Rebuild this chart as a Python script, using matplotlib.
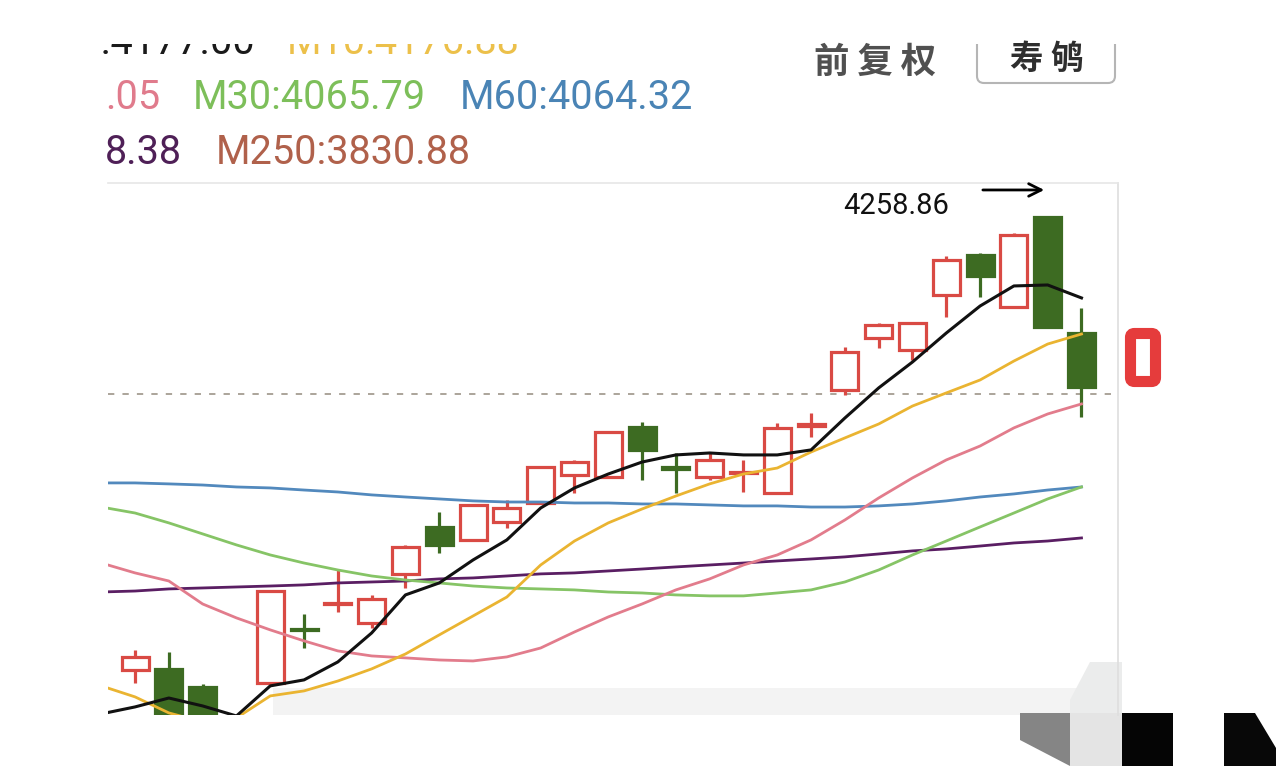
import matplotlib
matplotlib.use("Agg")
import matplotlib.pyplot as plt
from matplotlib.patches import Rectangle, FancyBboxPatch, Polygon

# ---------------- data ----------------
idx = list(range(29))                     # candle positions
opens  = [3933.6, 3934.4, 3921.4, 3895.0, 3924.3, 3963.0, 3981.0, 3967.4, 4002.6, 4036.3,
          4027.0, 4039.9, 4053.5, 4073.6, 4072.2, 4108.1, 4079.0, 4072.2, 4075.0, 4060.7,
          4109.0, 4134.6, 4172.0, 4163.3, 4202.8, 4231.5, 4194.2, 4258.8, 4175.5]
highs  = [3948.0, 3946.6, 3923.6, 3898.0, 3991.0, 3973.8, 4005.4, 3987.5, 4023.4, 4047.1,
          4053.0, 4055.7, 4080.0, 4084.4, 4105.0, 4111.7, 4089.4, 4090.1, 4084.4, 4110.9,
          4118.1, 4165.5, 4182.7, 4183.4, 4230.8, 4233.0, 4247.3, 4258.86, 4193.5]
lows   = [3924.3, 3879.8, 3878.0, 3872.0, 3924.0, 3949.4, 3975.3, 3963.8, 3992.5, 4017.6,
          4026.0, 4035.6, 4052.5, 4060.7, 4071.5, 4070.0, 4060.7, 4070.0, 4061.4, 4060.0,
          4100.9, 4131.0, 4164.8, 4156.2, 4187.0, 4201.4, 4193.5, 4179.0, 4115.2]
closes = [3943.0, 3890.6, 3887.0, 3884.0, 3990.3, 3962.0, 3982.0, 3984.6, 4021.9, 4023.4,
          4052.1, 4049.9, 4079.4, 4082.9, 4104.5, 4091.6, 4078.0, 4084.4, 4076.0, 4107.4,
          4110.0, 4161.9, 4181.3, 4182.7, 4227.9, 4216.5, 4245.9, 4179.8, 4136.8]

ma_x = list(range(-1, 29))
ma5   = [3902.1, 3907.1, 3913.5, 3907.8, 3900.6, 3922.2, 3926.5, 3939.4, 3960.2, 3987.5,
         3996.1, 4012.6, 4027.0, 4049.9, 4064.3, 4074.3, 4082.9, 4088.0, 4089.4, 4088.0,
         4088.0, 4091.6, 4114.5, 4136.1, 4154.7, 4175.5, 4194.9, 4209.3, 4210.0, 4200.7]
ma10  = [3922.2, 3914.3, 3902.8, 3896.3, 3899.2, 3915.0, 3918.6, 3925.7, 3934.4, 3945.1,
         3958.8, 3972.4, 3986.0, 4009.0, 4026.2, 4039.2, 4049.2, 4058.5, 4067.2, 4074.3,
         4078.6, 4090.1, 4100.2, 4110.2, 4123.1, 4132.5, 4141.8, 4155.4, 4167.6, 4174.8]
ma20  = [4010.4, 4003.3, 3997.5, 3981.0, 3971.0, 3962.4, 3954.5, 3947.3, 3943.7, 3942.3,
         3940.8, 3940.1, 3943.0, 3949.4, 3960.9, 3971.7, 3981.0, 3991.1, 3999.0, 4009.0,
         4016.2, 4027.0, 4041.3, 4057.1, 4071.5, 4084.4, 4094.4, 4107.4, 4117.4, 4124.6]
ma30  = [4050.6, 4046.3, 4039.2, 4031.3, 4023.4, 4016.2, 4010.4, 4005.4, 4001.1, 3998.2,
         3996.1, 3993.9, 3992.5, 3991.8, 3991.1, 3989.6, 3988.9, 3987.5, 3986.8, 3986.8,
         3988.9, 3991.1, 3996.8, 4005.4, 4016.2, 4026.2, 4036.3, 4046.3, 4056.4, 4065.0]
ma60  = [4067.9, 4067.9, 4067.2, 4066.4, 4065.0, 4064.3, 4062.8, 4061.4, 4059.3, 4057.8,
         4056.4, 4055.0, 4054.2, 4054.2, 4053.5, 4053.5, 4052.8, 4052.8, 4052.1, 4051.4,
         4051.4, 4050.6, 4050.6, 4051.4, 4052.8, 4055.0, 4057.8, 4060.0, 4062.8, 4065.0]
ma120 = [3989.6, 3990.3, 3991.8, 3992.5, 3993.2, 3993.9, 3994.7, 3996.1, 3996.8, 3997.5,
         3999.0, 3999.7, 4001.1, 4002.6, 4003.3, 4004.7, 4006.1, 4007.6, 4009.0, 4010.4,
         4011.9, 4013.3, 4014.8, 4016.9, 4019.1, 4020.5, 4022.6, 4024.8, 4026.2, 4028.4]

ref_price = 4131.8
peak_label = "4258.86"
peak_index = 27

# legend texts as visible in the (cropped) screenshot
legend_rows = [
    [("M5:4177.00", "#1a1a1a"), ("M10:4176.88", "#ecc04a")],
    [(".05", "#e07b8c"), ("M30:4065.79", "#7dbf5a"), ("M60:4064.32", "#4a84b5")],
    [("8.38", "#4f2057"), ("M250:3830.88", "#b0614b")],
]

# ---------------- figure ----------------
W, H = 1280, 766
fig = plt.figure(figsize=(W / 100, H / 100), dpi=100)
fig.patch.set_facecolor("white")

# background decoration axes (pixel coordinates)
bg = fig.add_axes([0, 0, 1, 1], zorder=0)
bg.set_xlim(0, W)
bg.set_ylim(H, 0)
bg.axis("off")
bg.add_patch(Rectangle((273, 688), 849, 27, color="#f3f3f3", lw=0))
bg.add_patch(Polygon([(1090, 662), (1122, 662), (1122, 766), (1070, 766), (1070, 700)],
                     color="#ebecec", lw=0))
bg.add_patch(Polygon([(1020, 713), (1070, 713), (1070, 766), (1020, 740)], color="#858585", lw=0))
bg.add_patch(Rectangle((1070, 713), 52, 53, color="#e4e4e4", lw=0))
bg.add_patch(Rectangle((1122, 713), 51, 53, color="#050505", lw=0))
bg.add_patch(Polygon([(1224, 713), (1255, 713), (1276, 748), (1276, 766), (1224, 766)],
                     color="#080808", lw=0))
# red marker box on right
bg.add_patch(FancyBboxPatch((1130.5, 333.5), 25, 48, boxstyle="round,pad=0,rounding_size=4",
                            facecolor="none", edgecolor="#e53c3c", lw=8))

# main price axes
ax = fig.add_axes([108 / W, 51 / H, 1010 / W, 532 / H], zorder=1)
ax.set_facecolor("none")
ax.set_xlim(-0.80, 29.08)
ax.set_ylim(3901.3, 4283.2)
ax.set_xticks([])
ax.set_yticks([])
for s in ("left", "bottom"):
    ax.spines[s].set_visible(False)
ax.spines["top"].set_color("#e6e6e6")
ax.spines["right"].set_color("#dedede")
ax.spines["top"].set_linewidth(1.2)
ax.spines["right"].set_linewidth(1.2)

RED = "#d94a44"
GREEN = "#3d6b22"
w = 0.8
for i, o, h, l, c in zip(idx, opens, highs, lows, closes):
    top, bot = max(o, c), min(o, c)
    if c >= o:
        ax.vlines(i, top, h, color=RED, lw=2.3, zorder=2)
        ax.vlines(i, l, bot, color=RED, lw=2.3, zorder=2)
        ax.add_patch(Rectangle((i - w / 2, bot), w, max(top - bot, 0.3),
                               facecolor="white", edgecolor=RED, lw=2.3, zorder=2))
    else:
        ax.vlines(i, l, h, color=GREEN, lw=2.3, zorder=2)
        ax.add_patch(Rectangle((i - w / 2, bot), w, max(top - bot, 0.3),
                               facecolor=GREEN, edgecolor=GREEN, lw=2.3, zorder=2))

ax.plot(ma_x, ma120, color="#5a1e63", lw=2.0, zorder=3)
ax.plot(ma_x, ma60, color="#5289bd", lw=2.0, zorder=3)
ax.plot(ma_x, ma30, color="#86c466", lw=2.0, zorder=3)
ax.plot(ma_x, ma20, color="#e27c8c", lw=2.0, zorder=3)
ax.plot(ma_x, ma10, color="#eab431", lw=2.0, zorder=3)
ax.plot(ma_x, ma5, color="#111111", lw=2.2, zorder=4)

ax.axhline(ref_price, color="#a59d92", lw=1.3, ls=(0, (3.5, 4.5)), zorder=1)

ax.annotate("", xy=(peak_index - 0.02, 4278.2), xytext=(25.0, 4278.2),
            arrowprops=dict(arrowstyle="->,head_length=0.9,head_width=0.45", lw=2.0,
                            color="black"), annotation_clip=False, zorder=5)
ax.text(20.95, 4266.5, peak_label, fontsize=21, family="Roboto", color="#111111",
        ha="left", va="center", zorder=5)

# header axes (pixel coordinates, clipped at the screenshot's top edge)
hx = fig.add_axes([100 / W, (H - 175) / H, (W - 100) / W, (175 - 44) / H], zorder=2)
hx.set_xlim(100, W)
hx.set_ylim(175, 44)
hx.axis("off")

row_base = [54, 109, 164]
row_anchor = [
    [(255, "right"), (287, "left")],
    [(160, "right"), (193, "left"), (460, "left")],
    [(182, "right"), (216, "left")],
]
for r, items in enumerate(legend_rows):
    for (txt, col), (xp, ha) in zip(items, row_anchor[r]):
        hx.text(xp, row_base[r], txt, color=col, fontsize=28.5, family="Roboto",
                ha=ha, va="baseline", clip_on=(r == 0))

cjk = ["Noto Sans CJK SC", "DejaVu Sans"]
hx.text(875, 62, "前 复 权", color="#505050", fontsize=25.5, fontweight="bold",
        family=cjk, ha="center", va="center")
hx.add_patch(FancyBboxPatch((977, 20), 138, 63, boxstyle="round,pad=0,rounding_size=7",
                            facecolor="none", edgecolor="#b5b5b5", lw=1.5, clip_on=True))
hx.text(1047, 59, "寿 鸲", color="#2e2e2e", fontsize=24, fontweight="bold",
        family=cjk, ha="center", va="center")

fig.savefig("out.png", dpi=100)
